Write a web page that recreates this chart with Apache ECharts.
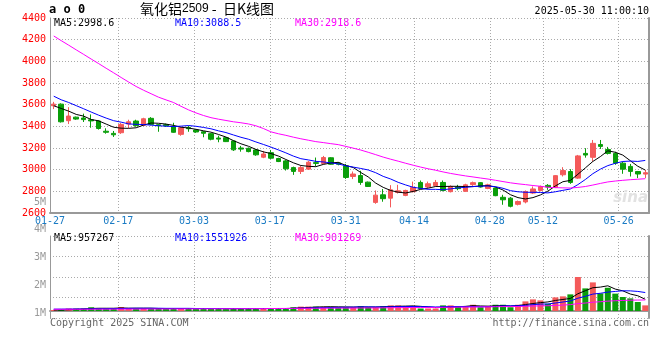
<!DOCTYPE html>
<html><head><meta charset="utf-8">
<script src="https://cdn.jsdelivr.net/npm/echarts@6/dist/echarts.min.js"></script>
<style>html,body{margin:0;padding:0;background:#fff}#c{width:660px;height:360px}</style>
</head><body><div id="c"></div>
<script>
const dates = ['01-27',
 '02-05','02-06','02-07','02-10','02-11','02-12','02-13','02-14','02-17','02-18','02-19','02-20','02-21','02-24','02-25','02-26','02-27','02-28',
 '03-03','03-04','03-05','03-06','03-07','03-10','03-11','03-12','03-13','03-14','03-17','03-18','03-19','03-20','03-21','03-24','03-25','03-26','03-27','03-28','03-31',
 '04-01','04-02','04-03','04-07','04-08','04-09','04-10','04-11','04-14','04-15','04-16','04-17','04-18','04-21','04-22','04-23','04-24','04-25','04-28','04-29','04-30',
 '05-06','05-07','05-08','05-09','05-12','05-13','05-14','05-15','05-16','05-19','05-20','05-21','05-22','05-23','05-26','05-27','05-28','05-29','05-30'];
const openP = [3590,3605,3452,3485,3477,3460,3449,3355,3335,3341,3421,3449,3409,3474,3415,3415,3396,3326,3390,3366,
 3350,3332,3292,3295,3265,3200,3197,3182,3115,3157,3103,3081,3019,2984,3005,3065,3057,3110,3062,3035,
 2937,2946,2885,2698,2768,2737,2790,2762,2797,2882,2840,2852,2882,2797,2840,2800,2862,2880,2827,2830,
 2745,2737,2680,2702,2784,2808,2855,2837,2953,2983,2922,3150,3114,3232,3186,3150,3060,3030,2983,2959];
const closeP = [3605,3442,3495,3467,3462,3450,3380,3345,3322,3418,3442,3406,3470,3418,3405,3405,3345,3387,3378,3348,
 3336,3281,3282,3259,3183,3190,3167,3137,3145,3106,3075,3008,2984,3019,3069,3058,3112,3050,3050,2928,
 2960,2882,2845,2765,2732,2814,2805,2808,2836,2827,2870,2882,2808,2845,2825,2860,2880,2840,2860,2760,
 2722,2662,2706,2798,2822,2845,2840,2945,2992,2882,3127,3135,3243,3215,3150,3060,3005,2984,2960,2972];
const lowP = [3559,3435,3421,3460,3440,3387,3370,3332,3302,3330,3382,3397,3403,3410,3350,3395,3341,3313,3350,3340,
 3299,3271,3253,3255,3173,3166,3160,3128,3106,3097,3070,2992,2952,2960,2998,3031,3050,3045,3040,2915,
 2913,2860,2840,2685,2704,2652,2780,2755,2790,2820,2830,2845,2800,2790,2810,2795,2850,2835,2820,2755,
 2676,2652,2670,2689,2775,2800,2814,2830,2937,2869,2915,3111,3075,3191,3140,3045,2962,2937,2922,2922];
const highP = [3626,3612,3577,3490,3517,3510,3455,3382,3357,3430,3461,3461,3479,3485,3420,3425,3433,3395,3406,3370,
 3357,3338,3314,3300,3270,3219,3205,3190,3173,3182,3110,3090,3028,3035,3081,3112,3127,3115,3070,3053,
 2983,2990,2890,2808,2821,2857,2860,2815,2890,2900,2890,2905,2900,2855,2860,2870,2890,2885,2870,2835,
 2768,2747,2715,2808,2845,2853,2867,2950,3023,3005,3136,3198,3274,3274,3210,3165,3075,3053,2988,2998];
const volume = [82000,102000,205000,205000,205000,307000,205000,205000,205000,328000,
 205000,205000,205000,205000,205000,205000,205000,205000,205000,205000,
 205000,205000,184000,154000,205000,205000,205000,205000,205000,205000,
 205000,205000,307000,359000,359000,359000,338000,338000,307000,307000,
 307000,389000,307000,307000,389000,461000,461000,389000,389000,205000,
 205000,205000,461000,461000,389000,389000,512000,307000,389000,512000,
 512000,307000,512000,789000,953000,871000,594000,1117000,1199000,1363000,
 2787000,1855000,2346000,1445000,1906000,1424000,1148000,1035000,738000,461000];
const ma5Head = [3590,3565,3540,3510];
const ma10Head = [3678,3645,3620,3591,3562,3532,3503,3476,3452];
const ma30Head = [4234,4191,4149,4106,4064,4021,3979,3936,3894,3851,3809,3768,3733,3701,3669,3644,3620,3585,3552,3524,3500,3480,3466,3454,3442,3433,3422,3405,3380];
const volMa5Head = [80000,85000,100000,130000];
const volMa10Head = [150000,155000,160000,165000,170000,175000,180000,185000,195000];
const volMa30Head = [140000,140000,140000,142000,144000,146000,148000,150000,152000,154000,156000,158000,160000,162000,164000,166000,168000,170000,172000,174000,176000,178000,180000,182000,184000,186000,188000,190000,192000];
const dateLabels = ['01-27','02-17','03-03','03-17','03-31','04-14','04-28','05-12','05-26'];
const volTickLabels = ['','1M','2M','3M','4M','5M'];
const maLegend = ['MA5:2998.6','MA10:3088.5','MA30:2918.6'];
const volMaLegend = ['MA5:957267','MA10:1551926','MA30:901269'];
const titleMain = '氧化铝', titleCode = '2509', titleTail = ' -  日K线图';
const stamp = '2025-05-30 11:00:10';
const priceMin = 2600, priceMax = 4400, priceStep = 200;
const volMin = -574000, volMax = 6150000;

function ma(arr, n, head){
  return arr.map((v,i)=>{
    if(i < head.length) return head[i];
    let s=0; for(let k=i-n+1;k<=i;k++) s+=arr[k];
    return +(s/n).toFixed(1);
  });
}
const UP='#f45a5a', DOWN='#0a9e0a';
const MONO='DejaVu Sans Mono';
const candles = dates.map((d,i)=>[openP[i],closeP[i],lowP[i],highP[i]]);
const volBars = volume.map((v,i)=>({value:v,itemStyle:{color: closeP[i]>=openP[i]?UP:DOWN}}));
const showIdx = (idx)=>dateLabels.includes(dates[idx]);
const dotted = {color:'#aaa',type:[1,2],width:1};

const chart = echarts.init(document.getElementById('c'),null,{renderer:'canvas'});
const lineS = (name,data,color,xi,yi)=>({name,type:'line',data,xAxisIndex:xi,yAxisIndex:yi,showSymbol:false,symbol:'none',
  lineStyle:{color,width:1},itemStyle:{color},z:5,silent:true});
chart.setOption({
  animation:false,
  backgroundColor:'#fff',
  grid:[
    {left:50,top:18,width:599,height:195},
    {left:50,top:236,width:599,height:82},
    {left:50,top:202,width:599,height:138.75}
  ],
  xAxis:[
    {type:'category',gridIndex:0,data:dates,boundaryGap:true,show:false,position:'bottom'},
    {type:'category',gridIndex:0,data:dates,boundaryGap:false,position:'bottom',
      axisLine:{lineStyle:{color:'#999',width:2}},axisTick:{show:false},
      axisLabel:{interval:(i)=>showIdx(i),color:'#1a7bc4',fontSize:10,fontFamily:MONO,margin:3},
      splitLine:{show:true,interval:(i)=>showIdx(i),lineStyle:dotted}},
    {type:'category',gridIndex:1,data:dates,boundaryGap:true,show:false,position:'bottom'},
    {type:'category',gridIndex:1,data:dates,boundaryGap:false,position:'bottom',
      axisLine:{lineStyle:{color:'#999',width:2}},axisTick:{show:false},axisLabel:{show:false},
      splitLine:{show:true,interval:(i)=>showIdx(i),lineStyle:dotted}},
    {type:'category',gridIndex:2,data:dates,show:false,position:'bottom'}
  ],
  yAxis:[
    {type:'value',gridIndex:0,min:priceMin,max:priceMax,interval:priceStep,position:'left',
      axisLine:{show:true,lineStyle:{color:'#999',width:1}},axisTick:{show:false},
      axisLabel:{color:'#f00',fontSize:10,fontFamily:MONO,margin:4,formatter:(v)=>String(v)},
      splitLine:{show:true,lineStyle:dotted}},
    {type:'value',gridIndex:0,min:priceMin,max:priceMax,interval:priceStep,position:'right',
      axisLine:{show:true,lineStyle:{color:'#999',width:2}},axisTick:{show:false},axisLabel:{show:false},splitLine:{show:false}},
    {type:'value',gridIndex:1,min:volMin,max:volMax,interval:(volMax-volMin)/4,position:'left',
      axisLine:{show:true,lineStyle:{color:'#999',width:1}},axisTick:{show:false},axisLabel:{show:false},
      splitLine:{show:true,lineStyle:dotted}},
    {type:'value',gridIndex:1,min:volMin,max:volMax,position:'right',
      axisLine:{show:true,lineStyle:{color:'#999',width:2}},axisTick:{show:false},axisLabel:{show:false},splitLine:{show:false}},
    {type:'value',gridIndex:2,min:0,max:volTickLabels.length-1,interval:1,position:'left',
      axisLine:{show:false},axisTick:{show:false},splitLine:{show:false},
      axisLabel:{color:'#999',fontSize:10,fontFamily:MONO,margin:4,formatter:(v)=>volTickLabels[v]||''}}
  ],
  series:[
    {type:'candlestick',xAxisIndex:0,yAxisIndex:0,data:candles,barWidth:5,z:3,
      itemStyle:{color:UP,color0:DOWN,borderColor:UP,borderColor0:DOWN,borderWidth:1}},
    lineS('MA5',ma(closeP,5,ma5Head),'#000',0,0),
    lineS('MA10',ma(closeP,10,ma10Head),'#0000ff',0,0),
    lineS('MA30',ma(closeP,30,ma30Head),'#ff00ff',0,0),
    {type:'bar',xAxisIndex:2,yAxisIndex:2,data:volBars,barWidth:6,z:3},
    lineS('VMA5',ma(volume,5,volMa5Head),'#000',2,2),
    lineS('VMA10',ma(volume,10,volMa10Head),'#0000ff',2,2),
    lineS('VMA30',ma(volume,30,volMa30Head),'#ff00ff',2,2)
  ],
  graphic:[
    {type:'text',left:49,top:4,style:{text:'a o 0',font:'bold 12px "DejaVu Sans Mono"',fill:'#000'}},
    {type:'text',left:140,top:2,style:{text:'{a|'+titleMain+'}{b|'+titleCode+'}{a|'+titleTail+'}',
      rich:{a:{fontSize:14,fontFamily:'Noto Sans CJK SC',color:'#000'},b:{fontSize:12,fontFamily:'Liberation Sans',color:'#555'}}}},
    {type:'text',right:11,top:6,style:{text:stamp,font:'10px "DejaVu Sans Mono"',fill:'#000'}},
    {type:'text',left:54,top:18,style:{text:maLegend[0],font:'10px "DejaVu Sans Mono"',fill:'#000'}},
    {type:'text',left:175,top:18,style:{text:maLegend[1],font:'10px "DejaVu Sans Mono"',fill:'#0000ff'}},
    {type:'text',left:295,top:18,style:{text:maLegend[2],font:'10px "DejaVu Sans Mono"',fill:'#ff00ff'}},
    {type:'text',left:54,top:233,style:{text:volMaLegend[0],font:'10px "DejaVu Sans Mono"',fill:'#000'}},
    {type:'text',left:175,top:233,style:{text:volMaLegend[1],font:'10px "DejaVu Sans Mono"',fill:'#0000ff'}},
    {type:'text',left:295,top:233,style:{text:volMaLegend[2],font:'10px "DejaVu Sans Mono"',fill:'#ff00ff'}},
    {type:'text',left:50,top:318,style:{text:'Copyright 2025 SINA.COM',font:'10px "DejaVu Sans Mono"',fill:'#666'}},
    {type:'text',right:11,top:318,style:{text:'http://finance.sina.com.cn',font:'10px "DejaVu Sans Mono"',fill:'#666'}},
    {type:'text',right:12,top:191,z:1,style:{text:'sina',font:'italic bold 15px "DejaVu Sans"',fill:'#e2e2e2'}}
  ]
});
</script></body></html>
